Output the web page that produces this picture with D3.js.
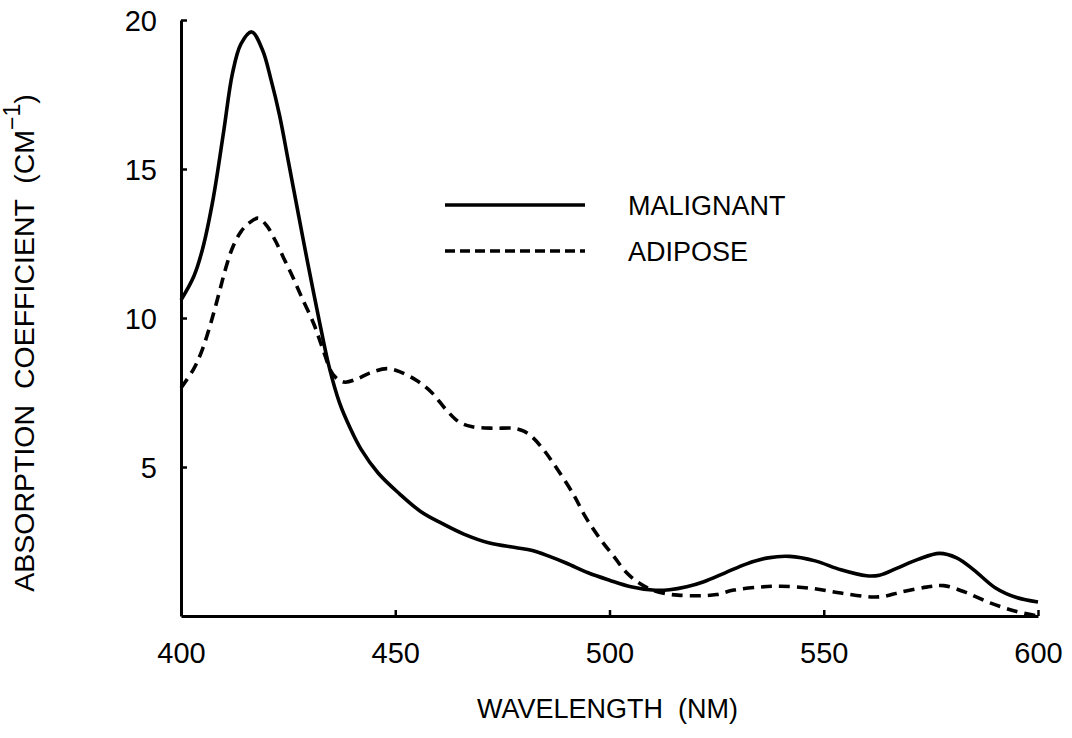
<!DOCTYPE html>
<html>
<head>
<meta charset="utf-8">
<script src="https://cdn.jsdelivr.net/npm/d3@7"></script>
<style>
  body { margin: 0; background: #fff; }
  text { font-family: "Liberation Sans", Arial, sans-serif; fill: #000; }
</style>
</head>
<body>
<div id="chart"></div>
<script>
// Absorption spectra
const wavelengths = [400, 450, 500, 550, 600];
const yTicks = [5, 10, 15, 20];

const malignantX = [400, 403, 405, 407.5, 410, 412, 414, 416.5, 419, 421, 423, 425, 427.5, 429.5, 432, 434.5,
  437, 439.5, 442, 446, 451, 456, 461, 466, 472, 478, 482, 486, 490, 495, 500, 505, 510, 514, 518, 522,
  527, 532, 537, 542, 548, 554, 560, 563, 567, 572, 577, 581, 585, 590, 595, 600];
const malignantY = [10.6, 11.4, 12.3, 14.0, 16.3, 18.2, 19.2, 19.6, 19.0, 18.0, 16.8, 15.3, 13.4, 11.9, 10.1, 8.4,
  7.15, 6.3, 5.6, 4.8, 4.1, 3.5, 3.1, 2.75, 2.45, 2.3, 2.2, 2.0, 1.77, 1.45, 1.2, 0.98, 0.87, 0.88, 0.98, 1.15,
  1.45, 1.75, 1.95, 2.0, 1.85, 1.55, 1.35, 1.37, 1.6, 1.9, 2.1, 1.95, 1.55, 0.95, 0.62, 0.47];

const adiposeX = [400, 403, 405, 407, 409, 410.5, 412, 414, 416, 418, 420, 422, 424, 426, 428, 431, 433, 435.5,
  438, 441, 444, 448, 451, 455, 458.5, 462, 465, 468, 473, 477.5, 480, 482, 484.5, 487, 491.5, 494.5, 498,
  501, 504, 507, 510, 513, 516, 521, 525, 529, 535, 540, 547, 554, 561, 564, 568, 574, 578, 583, 589, 595, 600];
const adiposeY = [7.65, 8.3, 8.95, 9.85, 10.9, 11.7, 12.35, 12.9, 13.2, 13.35, 13.1, 12.6, 12.0, 11.4, 10.75, 9.8, 9.0, 8.1,
  7.85, 7.95, 8.15, 8.3, 8.2, 7.9, 7.5, 6.9, 6.5, 6.35, 6.3, 6.3, 6.2, 6.0, 5.6, 5.1, 4.1, 3.3, 2.55,
  2.0, 1.45, 1.1, 0.87, 0.75, 0.7, 0.68, 0.72, 0.87, 0.97, 1.0, 0.93, 0.77, 0.64, 0.66, 0.8, 0.97, 1.02, 0.8, 0.43, 0.15, 0.0];

const seriesNames = ["MALIGNANT", "ADIPOSE"];

const W = 1072, H = 738;
const margin = { top: 20, right: 34, bottom: 122, left: 181 };
const width = W - margin.left - margin.right;
const height = H - margin.top - margin.bottom;

const svg = d3.select("#chart").append("svg")
  .attr("width", W)
  .attr("height", H);

const g = svg.append("g")
  .attr("transform", `translate(${margin.left},${margin.top})`);

const x = d3.scaleLinear().domain([400, 600]).range([0, width]);
const y = d3.scaleLinear().domain([0, 20]).range([height, 0]);

// x axis, ticks pointing inward
const xAxis = g.append("g")
  .attr("transform", `translate(0,${height})`)
  .call(d3.axisBottom(x).tickValues(wavelengths).tickSize(-6).tickSizeOuter(0).tickPadding(26));

// y axis, ticks pointing inward
const yAxis = g.append("g")
  .call(d3.axisLeft(y).tickValues(yTicks).tickSize(-6).tickSizeOuter(0).tickPadding(24));

[xAxis, yAxis].forEach(a => {
  a.select(".domain").attr("stroke", "#000").attr("stroke-width", 3);
  a.selectAll(".tick line").attr("stroke", "#000").attr("stroke-width", 2.5);
  a.selectAll(".tick text").style("font-size", "29px").attr("fill", "#000");
});
xAxis.selectAll(".tick text").attr("dy", "0.71em");
yAxis.selectAll(".tick text").attr("dy", "0.36em");

const line = d3.line()
  .x(d => x(d[0]))
  .y(d => y(d[1]))
  .curve(d3.curveCatmullRom.alpha(0.5));

const malignant = d3.zip(malignantX, malignantY);
const adipose = d3.zip(adiposeX, adiposeY);

g.append("path")
  .datum(malignant)
  .attr("fill", "none")
  .attr("stroke", "#000")
  .attr("stroke-width", 3.6)
  .attr("d", line);

g.append("path")
  .datum(adipose)
  .attr("fill", "none")
  .attr("stroke", "#000")
  .attr("stroke-width", 3.6)
  .attr("stroke-dasharray", "11,7")
  .attr("d", line);

// legend
const legend = svg.append("g").attr("transform", "translate(445,205)");
seriesNames.forEach((name, i) => {
  const row = legend.append("g").attr("transform", `translate(0,${i * 46})`);
  row.append("line")
    .attr("x1", 0).attr("x2", 140)
    .attr("stroke", "#000")
    .attr("stroke-width", 3.6)
    .attr("stroke-dasharray", i === 0 ? null : "10,5");
  row.append("text")
    .attr("x", 183)
    .attr("y", 10)
    .style("font-size", "27px")
    .text(name);
});

// axis titles
svg.append("text")
  .attr("x", margin.left + width / 2 - 2)
  .attr("y", 718)
  .attr("text-anchor", "middle")
  .style("font-size", "27px")
  .attr("xml:space", "preserve")
  .text("WAVELENGTH  (NM)");

const yTitle = svg.append("text")
  .attr("transform", "translate(34,343) rotate(-90)")
  .attr("text-anchor", "middle")
  .attr("xml:space", "preserve")
  .style("font-size", "28.5px");
yTitle.append("tspan").text("ABSORPTION  COEFFICIENT  (CM");
yTitle.append("tspan").attr("dy", -14).style("font-size", "23px").text("\u22121");
yTitle.append("tspan").attr("dy", 14).text(")");
</script>
</body>
</html>
